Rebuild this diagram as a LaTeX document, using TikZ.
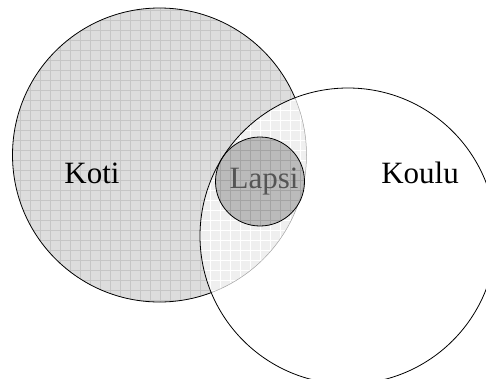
\documentclass[tikz,border=0pt]{standalone}
\usepackage{fontspec}
\setmainfont{Liberation Serif}
\definecolor{kotifill}{HTML}{DDDDDD}
\definecolor{kotigrid}{HTML}{C6C6C6}
\definecolor{interfill}{HTML}{EFEFEF}
\definecolor{lapsifill}{HTML}{BBBBBB}
\definecolor{lapsigrid}{HTML}{A4A4A4}
\definecolor{lapsitext}{HTML}{555555}
\tikzset{
  outline/.style={draw=black, line width=0.8pt},
  gridlines/.style={line width=0.7pt, step=10pt},
  label/.style={font=\fontsize{31}{36}\selectfont, inner sep=0pt, anchor=base}
}
\begin{document}
\begin{tikzpicture}[x=1pt,y=-1pt]
\useasboundingbox (0,0) rectangle (486,378);
\coordinate (kotiC) at (159.5,155);
\coordinate (kouluC) at (348,236);
\coordinate (lapsiC) at (260,181.5);
\def\rkoti{147}
\def\rkoulu{148}
\def\rlapsi{44.5}
% Koti
\fill[kotifill] (kotiC) circle (\rkoti);
\begin{scope}
  \clip (kotiC) circle (\rkoti);
  \draw[gridlines, kotigrid] (0,0) grid (490,380);
\end{scope}
% Intersection Koti & Koulu
\begin{scope}
  \clip (kotiC) circle (\rkoti);
  \fill[interfill] (kouluC) circle (\rkoulu);
  \clip (kouluC) circle (\rkoulu);
  \draw[gridlines, white] (0,0) grid (490,380);
\end{scope}
% Lapsi
\fill[lapsifill] (lapsiC) circle (\rlapsi);
\begin{scope}
  \clip (lapsiC) circle (\rlapsi);
  \draw[gridlines, lapsigrid] (0,0) grid (490,380);
\end{scope}
% Koti outline outside Koulu
\begin{scope}[even odd rule]
  \clip (-10,-10) rectangle (500,390) (kouluC) circle (\rkoulu);
  \draw[outline] (kotiC) circle (\rkoti);
\end{scope}
% Koti edge inside Koulu
\begin{scope}
  \clip (kouluC) circle (\rkoulu);
  \draw[line width=0.5pt, gray!70] (kotiC) circle (\rkoti);
\end{scope}
\draw[outline] (kouluC) circle (\rkoulu);
\draw[outline] (lapsiC) circle (\rlapsi);
\node[label] (koti) at (92,183) {Koti};
\node[label] (koulu) at (420,183) {Koulu};
\node[label, text=lapsitext] (lapsi) at (264,188) {Lapsi};
\end{tikzpicture}
\end{document}
